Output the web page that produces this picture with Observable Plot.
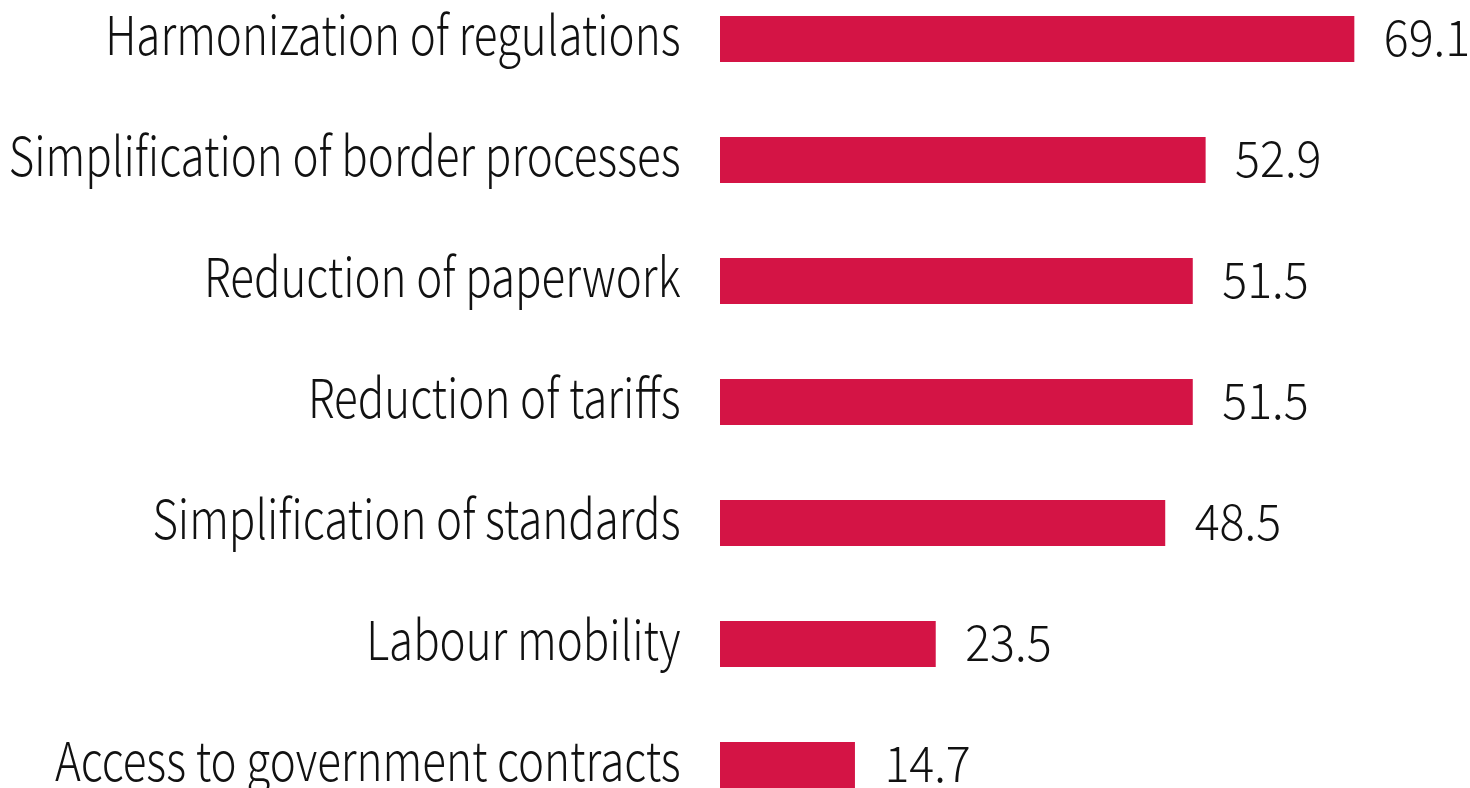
<!DOCTYPE html>
<html>
<head>
<meta charset="utf-8">
<script src="https://cdn.jsdelivr.net/npm/d3@7"></script>
<script src="https://cdn.jsdelivr.net/npm/@observablehq/plot@0.6"></script>
<style>
  html, body { margin: 0; padding: 0; background: #fff; overflow: hidden; }
  #chart svg { display: block; }
</style>
</head>
<body>
<div id="chart"></div>
<script>
const categories = [
  "Harmonization of regulations",
  "Simplification of border processes",
  "Reduction of paperwork",
  "Reduction of tariffs",
  "Simplification of standards",
  "Labour mobility",
  "Access to government contracts"
];
const values = [69.1, 52.9, 51.5, 51.5, 48.5, 23.5, 14.7];
const valueLabels = ["69.1", "52.9", "51.5", "51.5", "48.5", "23.5", "14.7"];

const data = categories.map((c, i) => ({category: c, value: values[i], label: valueLabels[i]}));

const font = "'Noto Sans CJK KR', 'Noto Sans', sans-serif";

const chart = Plot.plot({
  width: 1470,
  height: 790,
  marginLeft: 720,
  marginRight: 0,
  marginTop: 15,
  marginBottom: 0,
  style: {fontFamily: font, background: "#fff"},
  x: {domain: [0, 81.7], axis: null},
  y: {domain: categories, padding: 0.616, paddingOuter: 0, axis: null},
  marks: [
    Plot.barX(data, {x: "value", y: "category", fill: "#D41445"}),
    Plot.text(data, {x: 0, y: "category", text: "category", textAnchor: "end", dx: -40, dy: -2, fontSize: 54, fill: "#111", fontWeight: 300, className: "cat-label"}),
    Plot.text(data, {x: "value", y: "category", text: "label", textAnchor: "start", dx: 29, dy: 0, fontSize: 50, fill: "#111", fontWeight: 300, className: "val-label"})
  ]
});
document.getElementById("chart").appendChild(chart);

// condense glyphs horizontally to match the narrow typeface
function condense(selector, k) {
  chart.querySelectorAll(selector + " text").forEach(t => {
    const w = t.getComputedTextLength();
    if (w > 0) {
      t.setAttribute("textLength", (w * k).toFixed(1));
      t.setAttribute("lengthAdjust", "spacingAndGlyphs");
    }
  });
}
condense(".cat-label", 0.813);
condense(".val-label", 0.93);
</script>
</body>
</html>
